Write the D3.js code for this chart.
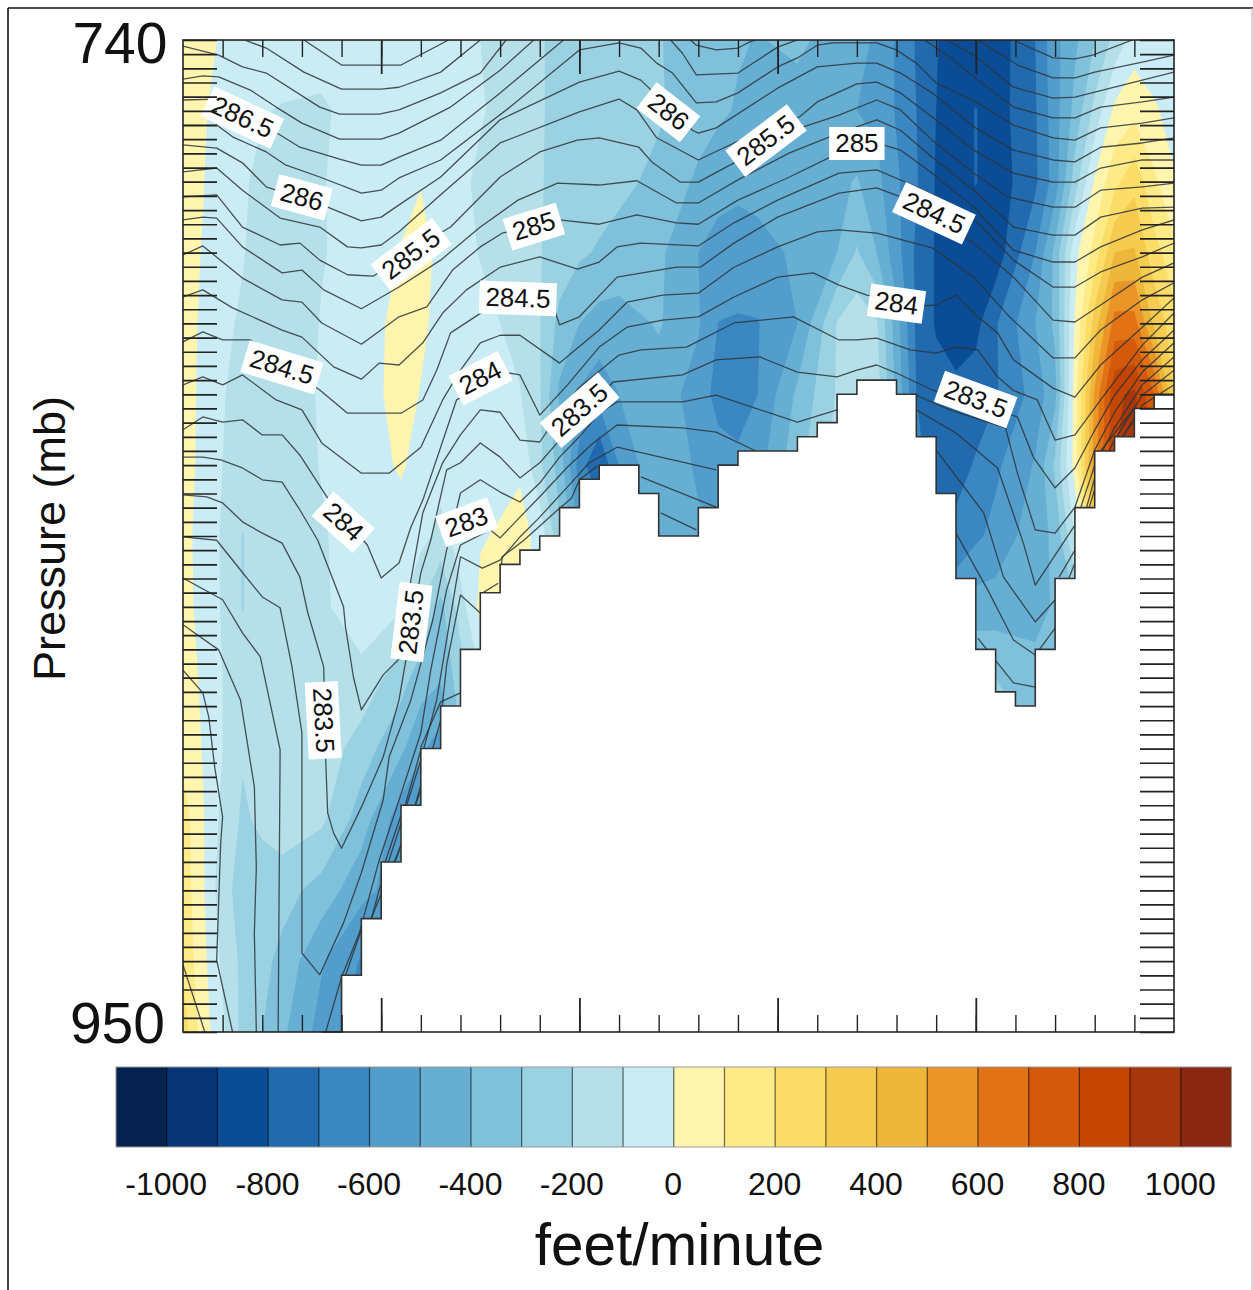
<!DOCTYPE html>
<html>
<head>
<meta charset="utf-8">
<title>Vertical velocity cross section</title>
<script src="https://cdnjs.cloudflare.com/ajax/libs/d3/7.8.5/d3.min.js"></script>
<style>
html, body {margin: 0; padding: 0; background: #fff;}
svg {display: block;}
text {font-family: "Liberation Sans", Arial, sans-serif; fill: #111;}
</style>
</head>
<body>
<div id="chartdiv"></div>
<script>
/*global d3 */

////////////////////////////////////////
// data
////////////////////////////////////////

//fill levels (feet/minute) and the 22 colorbar boxes
var levels = d3.range(-1000, 1001, 100);
var colors = ["#05214f", "#083674", "#0a4d96", "#216aad", "#3b87c1", "#529dcb",
              "#66afd3", "#7fc0da", "#9bd2e1", "#b5e0ea", "#caecf5", "#fff5ae",
              "#feea87", "#fcdd68", "#f6cc50", "#eeb73a", "#ea9528", "#e27314",
              "#d5590b", "#c44600", "#a6360c", "#8a2814"];
var barLabels = [-1000, -800, -600, -400, -200, 0, 200, 400, 600, 800, 1000];

//where the velocity samples were read: column index and pressure
var colNodes = [0, 1, 2, 3, 4, 5, 7, 9, 11, 12, 13, 15, 17, 18, 19, 20, 21, 22,
                24, 26, 27, 28, 29, 31, 33, 34, 35, 37, 38, 39, 40, 41, 43, 44,
                45, 46, 47, 48, 49, 50];
var pressureNodes = [740, 755, 770, 785, 800, 815, 830, 845, 860, 875, 890, 905,
                     920, 935, 950];

var w740 = [60,25,-10,-40,-50,-60,-70,-60,-60,-60,-70,-100,-150,-190,-230,-250,-260,-270,-295,-340,-370,-390,-405,-380,-440,-480,-510,-710,-795,-840,-860,-860,-700,-530,-420,-300,-170,-50,-70,-60];
var w755 = [45,15,-50,-70,-95,-105,-110,-70,-50,-50,-70,-95,-130,-190,-230,-250,-260,-270,-290,-350,-380,-410,-430,-440,-480,-500,-520,-700,-800,-850,-795,-850,-710,-540,-370,-170,25,70,15,-40];
var w770 = [40,5,-60,-90,-120,-140,-105,-60,-30,-5,-70,-110,-180,-195,-220,-240,-260,-280,-320,-420,-470,-480,-460,-450,-430,-390,-470,-690,-810,-860,-795,-860,-720,-550,-250,15,170,270,120,10];
var w785 = [40,-5,-70,-95,-130,-150,-105,-70,5,40,-30,-105,-170,-195,-240,-285,-310,-330,-380,-500,-530,-540,-540,-480,-400,-290,-400,-720,-810,-860,-860,-860,-600,-370,-30,140,400,410,240,130];
var w800 = [40,-15,-85,-110,-150,-160,-95,-60,40,20,-30,-70,-130,-195,-330,-400,-440,-445,-390,-490,-602,-610,-605,-500,-195,-130,-190,-720,-810,-860,-830,-710,-500,-380,10,350,640,640,380,240];
var w815 = [40,-20,-95,-130,-150,-150,-90,-50,40,-5,-40,-60,-95,-190,-420,-510,-560,-500,-450,-540,-640,-680,-600,-380,-190,-130,-150,-700,-760,-770,-750,-710,-560,-430,50,520,880,920,700,300];
var w830 = [40,-25,-100,-130,-150,-150,-95,-40,10,-30,-60,-40,-15,-180,-340,-650,-800,-600,-400,-520,-550,-560,-540,-330,-160,-140,-160,-680,-730,-740,-690,-620,-490,-280,40,560,900,950,800,300];
var w845 = [40,-45,-110,-205,-150,-140,-110,-50,-40,-70,-130,-10,35,-30,-280,-520,-600,-600,-420,-480,-500,-500,-500,-300,-150,-140,-150,-650,-670,-670,-620,-570,-440,-380,-90,300,800,900,800,300];
var w860 = [40,-35,-110,-205,-150,-140,-115,-50,-90,-200,-330,30,80,-50,-280,-520,-600,-600,-420,-480,-500,-500,-500,-300,-150,-140,-150,-650,-670,-520,-450,-450,-430,-390,-300,200,600,700,600,300];
var w875 = [50,-15,-100,-150,-150,-150,-130,-125,-260,-350,-390,-100,0,-50,-280,-520,-600,-600,-420,-480,-500,-500,-500,-300,-150,-140,-150,-650,-670,-520,-300,-300,-370,-390,-300,200,600,700,600,300];
var w890 = [70,-5,-100,-190,-140,-140,-135,-250,-380,-480,-550,-100,0,-50,-280,-520,-600,-600,-420,-480,-500,-500,-500,-300,-150,-140,-150,-650,-670,-520,-300,-150,-300,-390,-300,200,600,700,600,300];
var w905 = [150,10,-130,-215,-180,-140,-180,-350,-560,-600,-600,-400,0,-50,-280,-520,-600,-600,-420,-480,-500,-500,-500,-300,-150,-140,-150,-650,-670,-520,-300,-150,-300,-390,-300,200,600,700,600,300];
var w920 = [160,15,-170,-235,-250,-260,-340,-470,-550,-600,-600,-400,0,-50,-280,-520,-600,-600,-420,-480,-500,-500,-500,-300,-150,-140,-150,-650,-670,-520,-300,-150,-300,-390,-300,200,600,700,600,300];
var w935 = [180,30,-120,-225,-270,-330,-490,-610,-620,-600,-600,-400,0,-50,-280,-520,-600,-600,-420,-480,-500,-500,-500,-300,-150,-140,-150,-650,-670,-520,-300,-150,-300,-390,-300,200,600,700,600,300];
var w950 = [260,50,-80,-230,-300,-380,-540,-650,-650,-650,-650,-400,0,-50,-280,-520,-600,-600,-420,-480,-500,-500,-500,-300,-150,-140,-150,-650,-670,-520,-300,-150,-300,-390,-300,200,600,700,600,300];
var wRows = [w740, w755, w770, w785, w800, w815, w830, w845, w860, w875, w890,
             w905, w920, w935, w950];

//ground pressure for each of the 50 columns
var terrain = [950, 950, 950, 950, 950, 950, 950, 950, 938, 926, 914, 902, 890,
               881, 869, 857, 851, 848, 845, 839, 833, 830, 830, 836, 845, 845,
               839, 830, 827, 827, 827, 824, 821, 815, 812, 812, 815, 824, 836,
               854, 869, 878, 881, 869, 854, 839, 827, 824, 818, 815];

//potential temperature lines as [column, pressure] lists
var theta = [
    [[6.1,740],[8,745.3],[11,745.3],[13.4,740]],
    [[3.1,740],[4.2,741.7],[6.1,746.8],[8,750.4],[10,750.4],[10.9,750],[13,746.8],[15,740]],
    [[41.9,740],[43.9,743.8],[45,744],[45.9,743.2],[47.9,740]],
    [[0,741.3],[1.8,743.2],[3,745.7],[4.2,747],[6.9,754.2],[7.9,755.7],[9.9,755.7],[10.9,754.8],[13,751.2],[15,747],[16.3,740]],
    [[40.1,740],[42.1,745.3],[43.9,748],[45,748],[46,746.8],[48.4,744.7],[50,743.2]],
    [[0,748.3],[1,747.6],[1.8,747.8],[3.4,750.6],[4.7,754.2],[6,757.6],[7.9,761],[10,761],[10.9,759.7],[13.5,754.2],[16,746.4],[17.7,740]],
    [[38.5,740],[39.9,743.2],[41.9,750],[43.9,752.3],[45,752.1],[48.4,748.5],[50,746.8]],
    [[0,752.7],[1.7,752.5],[4.9,760.1],[5.9,762.7],[7.9,765.2],[9,766.5],[10,766.5],[10.9,764.8],[13,761.2],[16,751.2],[19.2,740]],
    [[37.4,740],[38.7,743.6],[40.1,748.5],[41.9,754.2],[43.9,756.5],[45,756.5],[46.3,754.2],[48.4,753.1],[50,752.1]],
    [[25.6,740],[25.9,741.1],[26.9,742.1],[28,741.7],[28.6,740.4],[28.9,740]],
    [[24.6,740],[25.2,742.8],[25.9,747.4],[28,747],[30,741.5],[31,740]],
    [[0,758],[1.7,758],[2.5,760.5],[4.2,763.7],[5.2,766.5],[6.9,769],[9,772.4],[10,771.8],[10.9,769.2],[13,765.4],[16.5,754.2],[20,742.1],[22,740.6],[23.1,741.7],[23.9,744.9],[24.7,747],[25.9,753.3],[26.9,753.1],[28,751.2],[30,745.7],[31,743.8],[32,741.1],[32.8,740.6],[35,740.6],[36,742.1],[37,744.9],[38,749.1],[40.1,753.3],[41.9,758],[43.9,760.7],[45,761.2],[46.3,758.6],[48.4,757.6],[50,756.5]],
    [[0,762.2],[1.7,762.9],[3,766],[4.2,771.1],[7.3,775.4],[9,778.3],[10,777.5],[10.9,774.9],[13,769],[16,756.9],[20,748.9],[22,746.6],[23.1,748.5],[25.7,759.1],[26,759.7],[26.9,758.6],[30,750.2],[32,745.7],[34,744.9],[35,744.9],[36.2,747],[37.8,751.2],[39.9,758.4],[41.9,763.3],[43.9,765.4],[45,765.8],[46.3,762.7],[48.4,761.8],[50,760.7]],
    [[0,767.9],[1.7,767.1],[3,771.8],[4.9,777.7],[6.9,779.6],[8.3,783.8],[9,784],[10,783.4],[10.9,780.6],[13.1,772.4],[16,761.8],[20,755.2],[22,752.5],[22.9,754.8],[23.9,760.7],[26,765.4],[27.8,761.8],[31.1,756.3],[32,753.1],[34,749.3],[35,748.9],[36.2,751.2],[37.8,756.3],[39.9,763.3],[41.9,768.2],[43.9,770.1],[45,770.1],[46.3,767.1],[48.4,765.4],[50,765.4]],
    [[0,773.2],[1.7,772.8],[3,779.6],[4.9,783.4],[5.9,783],[6.9,786.6],[8.3,789.7],[9.6,790],[11.5,784.5],[13.5,779.6],[16,769],[18,763.7],[19.9,761.2],[21,760.7],[23,762.7],[23.7,766],[25.1,770.1],[26,770.1],[27.4,766.9],[31.3,758.4],[33.1,755.9],[35,752.7],[36.2,754.8],[37.8,761.2],[39.9,768.2],[41.6,773.2],[43.9,775.4],[45,775.4],[46.3,771.8],[48.4,771.1],[50,770.3]],
    [[0,778.1],[1,777.5],[1.7,777.7],[3,783.8],[5,789.3],[6,788.7],[7.1,792.9],[9,796.9],[10.9,792.3],[13,786.6],[15,779.6],[16.9,773.9],[18.9,770.3],[21,770.7],[22.9,769.8],[24.9,774.5],[26,774.5],[28,769.6],[30.6,763.9],[33.1,759.7],[35,756.9],[36.2,759.1],[37.8,764.8],[39.9,771.8],[41.9,779.6],[43.9,781.3],[45,781.3],[46.3,777.5],[48.4,775.6],[50,775.4]],
    [[0,785.5],[1,783.6],[3,790.4],[5,795],[6,795.5],[7,799.9],[9,804.4],[10.9,798.6],[12.3,796.5],[13.6,788.7],[15,783.8],[16.1,780.9],[19,778.1],[21,779],[22.9,777],[24.9,778.7],[26,779],[28,773.9],[30.6,769],[33.1,763.9],[35,761.8],[36.2,763.3],[37.8,768.2],[39.9,775.4],[41.9,784.5],[43.9,787],[45,787],[46.3,783.8],[48.4,780.2],[50,778.1]],
    [[0,794.4],[1,792.9],[2.5,796.7],[5,801.4],[6,802.9],[7.6,809.2],[9,811.8],[9.9,808.4],[10.9,808.8],[12.1,804.1],[13.1,797.8],[14.3,792.9],[16,788.1],[18,785.9],[19.9,788.5],[21,787],[21.9,783.8],[23.1,783],[26,783.6],[27.8,778.7],[30,773.9],[33.1,768.2],[35,767.5],[36.8,770.7],[38.7,774.5],[40.1,778.7],[41.9,786.6],[43.9,792.3],[45,792.3],[46.3,789.1],[48.4,785.9],[50,783]],
    [[0,803.9],[1,801.8],[2,803.5],[3.4,803.5],[6.9,814.1],[8.3,819],[11,819],[12.1,816.2],[12.8,809.9],[13.5,802],[15.1,797.6],[18.8,797.8],[19,800.3],[20,798.6],[21.9,790.2],[24.9,788.1],[26.1,788.1],[27.8,783],[30,777.5],[33.1,772.4],[35,771.3],[36.2,773.2],[39.9,783],[41.9,790.2],[43.9,799.3],[45,799.7],[46.3,796.1],[48.4,790.2],[50,787.2]],
    [[0,813],[1,811.3],[2,813],[3,810.9],[4.7,816.2],[6,818.3],[7,825.3],[9,831.7],[10.4,831.7],[12,826.2],[13.1,816.2],[14,809.9],[15,804.1],[16,802.5],[17,802.5],[19,808.4],[21,801.4],[22.4,795.5],[24.2,794],[26,793.6],[27.8,788.1],[30,783.8],[32,780.6],[33.1,780.2],[35,780.9],[37.8,784],[39.9,790.2],[41.7,798.6],[43.9,807.3],[45,807.3],[46.3,801.4],[48.4,795],[50,791.4]],
    [[0,822.5],[1,819.8],[2,820.9],[3,820.4],[4,823.6],[5,823.6],[5.9,827.9],[7.3,837],[9.3,846.9],[10,853.9],[10.9,850.7],[11.5,843.1],[12.1,837.4],[13,826.2],[13.8,816.2],[16.5,810.5],[17,810.9],[18,819.4],[19.4,813],[21,805],[22.4,800.8],[24.2,799.3],[26,798.6],[27.8,794.4],[30,790.2],[31.8,789.3],[33.1,791.9],[34.5,794],[37.3,796.3],[38,796.1],[39,794],[40.1,798.6],[41.1,802],[41.9,807.7],[43.9,813.7],[45,815.6],[46.3,808.8],[48.4,800.8],[50,794.6]],
    [[0,828.3],[1,828.3],[1.9,828.9],[3,830.6],[4,833.1],[5,833.6],[5.9,839.5],[6.8,845.9],[8.1,860],[8.2,864.3],[8.6,874.9],[9,881.8],[10.1,874.4],[11,870.6],[11.5,854.3],[12.1,840.1],[13.1,829.5],[14,823.6],[15,818.3],[16,818.8],[17,824.7],[18,825.1],[19,819],[20,813.5],[22,806.7],[23.1,805.6],[25.4,805],[27.8,799.9],[30.8,798.6],[33.1,803.5],[34,803.5],[35,803.1],[36.7,805.6],[38,806.3],[39,805],[40.1,805.6],[41.1,811.3],[41.9,814.2],[43.1,816.2],[44,824.7],[45,823.6],[46.3,816.2],[48.4,804.6],[50,797.8]],
    [[0,836.3],[1.2,836.7],[2,838],[3,842],[4,844.4],[5,846.5],[5.9,853.7],[6.3,861.3],[7.1,872.7],[7.2,892.4],[7.3,903.6],[7.6,907.9],[8,911.1],[9,902.4],[10.1,891.8],[10.9,879.7],[12,852.8],[12.5,845.9],[13.3,831],[14,829.5],[15,825.3],[16,828.3],[17,832.7],[18,829.5],[19,824.7],[21.7,812.4],[25.2,810.9],[26.9,807.7],[29.1,807.1],[31,810.3],[33,811.3],[34,809.9],[35,808.8],[36,810.5],[37.8,814.1],[42.1,819.8],[42.9,828.3],[44,834.8],[45,830.6],[46,822.6],[47,815.2],[48.4,807.7],[50,801.4]],
    [[0,845.2],[1.7,845.9],[2.9,852.2],[4,857.9],[4.9,860.2],[5.5,872.7],[6,886.7],[6,933.3],[6.9,937.9],[8.1,926.9],[9,916.3],[10.1,900.9],[10.4,891.8],[11.5,879.7],[12.6,862.8],[13.3,848],[14,835.9],[15,833.1],[16,835.7],[17,837.8],[18,833.8],[19,828.3],[20,824],[21,819],[21.9,816.6],[25.2,816.6],[26.9,815.2],[31,820.9],[33,818.3]],
    [[37,815.2],[38.7,818.3],[41.5,822.1],[42.1,831.7],[43,843.7],[44,844.4],[45,838.9],[46,826.8],[47,818.8],[48.4,810.3],[50,804.1]],
    [[0,853.9],[2,858.5],[3,865.5],[3.9,870.6],[4.9,890.3],[4.8,950]],
    [[7.2,950],[8,938.4],[8.9,929],[9.9,913.6],[10.9,900.9],[12,886.7],[12.5,873.4],[13.3,856.4],[14,846.9],[15.5,843.7],[16,845.4],[17,841],[18,836.7],[19.4,830.4],[20.7,825.3],[21.9,821.5],[25.2,822.1],[26.9,823],[28.8,826.8],[29.2,828]],
    [[37,818.3],[39,823.2],[41.1,830.6],[42.4,846.5],[43,855.4],[45,842.7],[46,830],[47,822.1],[48.4,813],[50,807.1]],
    [[0,863.8],[1.8,869.1],[2.9,879.7],[3.6,898.1],[3.7,915.1],[3.6,929],[3.7,950]],
    [[0,873.4],[1,878.2],[1.3,883.3],[1.6,893.9],[2,904.5],[1.9,910],[1.7,934.8],[2.5,950]],
    [[0,935.8],[1.1,950]],
    [[9,933.7],[9.9,919.9],[10.9,907.2],[12,892.4],[12.8,879.7],[13.3,867],[14,849.4],[15.1,851.8],[16,850.1],[17,845.2],[18,841],[19.4,834.6],[20.5,829.5],[21.9,826.2],[26.9,831]],
    [[38,826.8],[40.4,840.1],[41.4,853.7],[43,863.2],[44,858.5]],
    [[44.2,853.7],[45,848],[46,832.7],[47,824.7],[48.4,815.2],[50,809.9]],
    [[9.5,925.9],[10.9,911.5],[12,898.8],[13,884],[13.3,872.3],[14,857.5],[15,861.3]],
    [[16,855],[16.1,849.4],[17.2,845.9],[18.9,839.5],[19.6,837],[20,833.1],[20.9,830.2]],
    [[23.1,832.5],[26.9,838.9]],
    [[24.1,840.1],[25.9,843.7]],
    [[39,844.4],[40.6,856.4],[41.9,867],[43,870.2],[44,864.5]],
    [[40.1,866.6],[41.9,876.1],[43,877]],
    [[44.7,853.9],[45,850.7],[45.6,840.6],[46.3,831],[47,826.8],[48.4,817.3],[50,813]],
    [[46.3,827],[48,817.9]],
    [[47.4,824],[48,820.4]],
    [[12,889.7],[13,880.1],[14,878.2]],
    [[8.2,938],[9,928.4]],
    [[10.2,914],[11,904.1]],
    [[10.7,914],[11,910.4]],
    [[11.2,902.2],[12,890.3]],
    [[11.7,902.2],[12,897.7]],
    [[15.1,857.1],[15.9,855]]];

//contour labels: text, column, pressure, rotation
var lineLabels = [["286.5", 3, 756.3, 25], ["286", 6, 773.2, 15],
                  ["285.5", 11.5, 785.3, -37], ["285", 17.7, 779.4, -17],
                  ["284.5", 16.9, 794.6, 2], ["284", 15, 811.5, -27],
                  ["283.5", 20, 818.3, -41], ["283", 14.3, 842, -20],
                  ["283.5", 11.5, 863.2, -83], ["283.5", 7.1, 884, 87],
                  ["284", 8.1, 842, 42], ["284.5", 5, 809.2, 17],
                  ["286", 24.5, 755.2, 38], ["285.5", 29.4, 761.2, -37],
                  ["285", 34, 761.8, 0], ["284.5", 37.9, 776.6, 25],
                  ["284", 36, 795.7, 8], ["283.5", 40, 816, 20]];

var pressureLabels = [740, 950];
var pressureTicks = d3.range(740, 951, 3);
var colMinorTicks = d3.range(2, 50, 2);
var colMajorTicks = d3.range(10, 50, 10);


////////////////////////////////////////
// drawing
////////////////////////////////////////

var ds = {w: 1253, h: 1290,
          left: 183, right: 1174, top: 40, bottom: 1032,
          bar: {x0: 116, x1: 1231.5, y0: 1067, y1: 1147}};

var svg = d3.select("#chartdiv").append("svg")
    .attr("width", ds.w).attr("height", ds.h);
var x = d3.scaleLinear().domain([0, 50]).range([ds.left, ds.right]);
var y = d3.scaleLinear().domain([740, 950]).range([ds.top, ds.bottom]);


function terrainPoints () {
    var pts = [];
    terrain.forEach(function (p, i) {
        pts.push([i, p]);
        pts.push([i + 1, p]); });
    return pts;
}


function drawFrame () {
    var line = function (x1, y1, x2, y2, color, width) {
        svg.append("line")
            .attr("x1", x1).attr("y1", y1).attr("x2", x2).attr("y2", y2)
            .attr("stroke", color).attr("stroke-width", width); };
    line(8, 8, 1253, 8, "#111", 1.6);
    line(8, 8, 8, ds.h, "#111", 1.6);
    line(1252, 8, 1252, ds.h, "#bbb", 1.2);
}


function drawFills (g) {
    var cols, rows, contours, path, flat = [];
    cols = d3.scaleLinear().clamp(true)
        .domain(colNodes.map(function (d, i) { return i + 0.5; }))
        .range(colNodes);
    rows = d3.scaleLinear().clamp(true)
        .domain(pressureNodes.map(function (d, i) { return i + 0.5; }))
        .range(pressureNodes);
    wRows.forEach(function (row) {
        row.forEach(function (v) { flat.push(v); }); });
    contours = d3.contours()
        .size([colNodes.length, pressureNodes.length])
        .thresholds(levels)(flat);
    path = d3.geoPath(d3.geoTransform({
        point: function (px, py) {
            this.stream.point(x(cols(px)), y(rows(py))); }}));
    g.append("rect")
        .attr("x", ds.left).attr("y", ds.top)
        .attr("width", ds.right - ds.left).attr("height", ds.bottom - ds.top)
        .attr("fill", colors[0]);
    g.selectAll("path.fill").data(contours).enter().append("path")
        .attr("class", "fill")
        .attr("d", path)
        .attr("fill", function (d, i) { return colors[i + 1]; });
}


function drawTheta (g) {
    var line = d3.line()
        .x(function (d) { return x(d[0]); })
        .y(function (d) { return y(d[1]); });
    g.selectAll("path.theta").data(theta).enter().append("path")
        .attr("class", "theta")
        .attr("d", line)
        .attr("fill", "none")
        .attr("stroke", "#2f3438")
        .attr("stroke-opacity", 0.85)
        .attr("stroke-width", 1.3)
        .attr("stroke-linejoin", "round");
}


function drawLineLabels () {
    var gs = svg.selectAll("g.linelabel").data(lineLabels).enter().append("g")
        .attr("class", "linelabel")
        .attr("transform", function (d) {
            return "translate(" + x(d[1]) + "," + y(d[2]) + ") rotate(" + d[3] + ")"; });
    gs.append("text")
        .attr("text-anchor", "middle")
        .attr("dy", 9)
        .style("font-size", "26px")
        .text(function (d) { return d[0]; });
    gs.insert("rect", "text")
        .attr("fill", "#fff")
        .attr("height", 33).attr("y", -16)
        .attr("width", function () {
            return this.parentNode.querySelector("text")
                .getComputedTextLength() + 12; })
        .attr("x", function () { return -d3.select(this).attr("width") / 2; });
}


function drawTerrain () {
    var line = d3.line()
        .x(function (d) { return x(d[0]); })
        .y(function (d) { return y(d[1]); });
    svg.append("path")
        .attr("d", line(terrainPoints().slice(14)))
        .attr("fill", "none")
        .attr("stroke", "#333")
        .attr("stroke-width", 1.6);
}


function styleAxis (g, width) {
    g.select(".domain").remove();
    g.selectAll(".tick line")
        .attr("stroke", "#222").attr("stroke-width", width);
    g.selectAll(".tick text").remove();
}


function drawAxes () {
    var sideLen = 34, minorLen = 17, majorLen = 34;
    styleAxis(svg.append("g")
              .attr("transform", "translate(" + ds.left + ",0)")
              .call(d3.axisLeft(y).tickValues(pressureTicks).tickSizeInner(-sideLen)), 1.7);
    styleAxis(svg.append("g")
              .attr("transform", "translate(" + ds.right + ",0)")
              .call(d3.axisRight(y).tickValues(pressureTicks).tickSizeInner(-sideLen)), 1.7);
    [[d3.axisBottom, ds.bottom], [d3.axisTop, ds.top]].forEach(function (a) {
        styleAxis(svg.append("g")
                  .attr("transform", "translate(0," + a[1] + ")")
                  .call(a[0](x).tickValues(colMinorTicks).tickSizeInner(-minorLen)), 1.4);
        styleAxis(svg.append("g")
                  .attr("transform", "translate(0," + a[1] + ")")
                  .call(a[0](x).tickValues(colMajorTicks).tickSizeInner(-majorLen)), 1.8); });
    svg.append("rect")
        .attr("x", ds.left).attr("y", ds.top)
        .attr("width", ds.right - ds.left).attr("height", ds.bottom - ds.top)
        .attr("fill", "none").attr("stroke", "#222").attr("stroke-width", 1.6);
    svg.selectAll("text.plab").data(pressureLabels).enter().append("text")
        .attr("class", "plab")
        .attr("text-anchor", "end")
        .attr("x", function (d) { return d === 740 ? 167.5 : 165; })
        .attr("y", function (d) { return y(d) + (d === 740 ? 23 : 11); })
        .style("font-size", "57px")
        .text(function (d) { return d; });
    svg.append("text")
        .attr("transform", "translate(65,538.5) rotate(-90)")
        .attr("text-anchor", "middle")
        .style("font-size", "45px")
        .text("Pressure (mb)");
}


function drawColorbar () {
    var b = ds.bar,
        bx = d3.scaleBand().domain(d3.range(colors.length)).range([b.x0, b.x1]),
        lx = d3.scaleLinear().domain([-1000, 1000])
            .range([bx(1), bx(colors.length - 1)]);
    svg.selectAll("rect.box").data(colors).enter().append("rect")
        .attr("class", "box")
        .attr("x", function (d, i) { return bx(i); })
        .attr("y", b.y0)
        .attr("width", bx.bandwidth() + 0.5)
        .attr("height", b.y1 - b.y0)
        .attr("fill", function (d) { return d; });
    svg.selectAll("line.sep").data(levels).enter().append("line")
        .attr("class", "sep")
        .attr("x1", function (d) { return lx(d); })
        .attr("x2", function (d) { return lx(d); })
        .attr("y1", b.y0).attr("y2", b.y1)
        .attr("stroke", "#000").attr("stroke-opacity", 0.55).attr("stroke-width", 1.3);
    svg.append("rect")
        .attr("x", b.x0).attr("y", b.y0)
        .attr("width", b.x1 - b.x0).attr("height", b.y1 - b.y0)
        .attr("fill", "none").attr("stroke", "#999").attr("stroke-width", 1);
    svg.selectAll("text.blab").data(barLabels).enter().append("text")
        .attr("class", "blab")
        .attr("text-anchor", "middle")
        .attr("x", function (d) { return lx(d) - 0.5; })
        .attr("y", 1195)
        .style("font-size", "32px")
        .text(function (d) { return d; });
    svg.append("text")
        .attr("text-anchor", "middle")
        .attr("x", 679.5).attr("y", 1265)
        .style("font-size", "58.5px")
        .text("feet/minute");
}


function run () {
    var clip, plot;
    drawFrame();
    clip = d3.line()
        .x(function (d) { return x(d[0]); })
        .y(function (d) { return y(d[1]); })(
            [[0, 740]].concat(terrainPoints()).concat([[50, 740]])) + "Z";
    svg.append("clipPath").attr("id", "aboveground")
        .append("path").attr("d", clip);
    plot = svg.append("g").attr("clip-path", "url(#aboveground)");
    drawFills(plot);
    drawTheta(plot);
    drawTerrain();
    drawLineLabels();
    drawAxes();
    drawColorbar();
}

run();
</script>
</body>
</html>
